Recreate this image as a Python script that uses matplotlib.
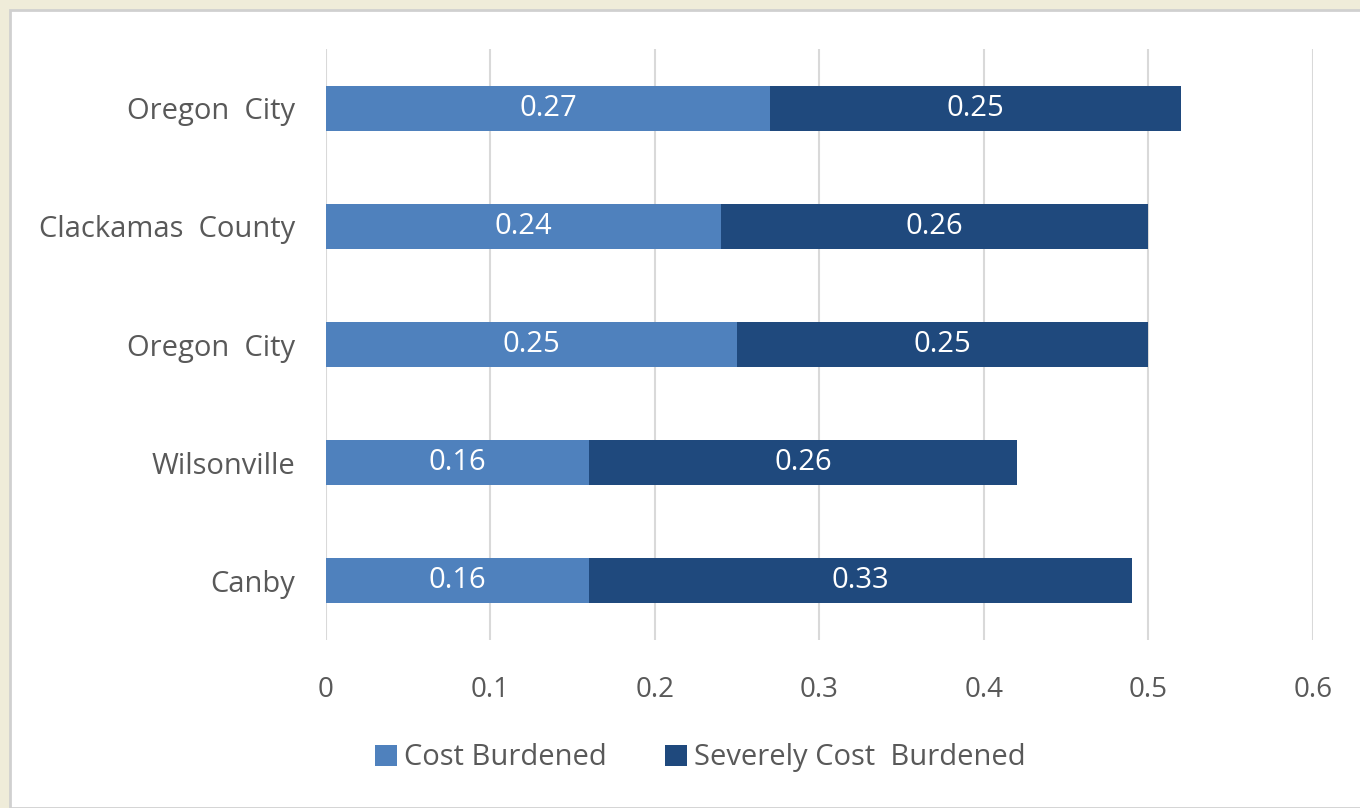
import matplotlib.pyplot as plt
from matplotlib.patches import Rectangle

# data (bottom to top)
places = ["Canby", "Wilsonville", "Oregon  City", "Clackamas  County", "Oregon  City"]
cost_burdened = [0.16, 0.16, 0.25, 0.24, 0.27]
severely_burdened = [0.33, 0.26, 0.25, 0.26, 0.25]
x_ticks = [0, 0.1, 0.2, 0.3, 0.4, 0.5, 0.6]

light_blue = "#4f81bd"
dark_blue = "#1f497d"
grey_text = "#595959"

plt.rcParams["font.family"] = ["Open Sans", "DejaVu Sans"]

fig = plt.figure(figsize=(13.6, 8.08), dpi=100)
fig.patch.set_facecolor("#efecd9")

# white chart panel
panel = Rectangle((10 / 1360, 0), 1, 1 - 10 / 808, transform=fig.transFigure,
                  facecolor="white", edgecolor="#d0d0d0", linewidth=2, zorder=-10)
fig.patches.append(panel)

ax = fig.add_axes([0.2397, 0.2079, 0.7257, 0.7314])
ax.set_facecolor("none")

pos = list(range(len(places)))
b1 = ax.barh(pos, cost_burdened, height=0.38, color=light_blue,
             label="Cost Burdened", zorder=3)
b2 = ax.barh(pos, severely_burdened, left=cost_burdened, height=0.38,
             color=dark_blue, label="Severely Cost  Burdened", zorder=3)

for bars, vals in [(b1, cost_burdened), (b2, severely_burdened)]:
    for bar, v in zip(bars, vals):
        ax.text(bar.get_x() + bar.get_width() / 2, bar.get_y() + bar.get_height() / 2,
                f"{v:.2f}", ha="center", va="center", color="white",
                fontsize=21, zorder=4)

ax.set_xlim(0, 0.6)
ax.set_ylim(-0.5, len(places) - 0.5)
ax.set_xticks(x_ticks)
ax.set_xticklabels([f"{t:g}" for t in x_ticks])
ax.set_yticks(pos)
ax.set_yticklabels(places)
ax.tick_params(axis="x", length=0, labelsize=20, colors=grey_text, pad=26)
ax.tick_params(axis="y", length=0, labelsize=21, colors=grey_text, pad=22)

ax.grid(axis="x", color="#d9d9d9", linewidth=1.5, zorder=0)
for s in ax.spines.values():
    s.set_visible(False)

leg = fig.legend(loc="center", bbox_to_anchor=(0.515, 0.062), ncol=2, frameon=False,
                 fontsize=21, handlelength=0.75, handleheight=0.75, handletextpad=0.25,
                 columnspacing=2.0)
for t in leg.get_texts():
    t.set_color(grey_text)

fig.savefig("out.png", dpi=100, facecolor=fig.get_facecolor())
